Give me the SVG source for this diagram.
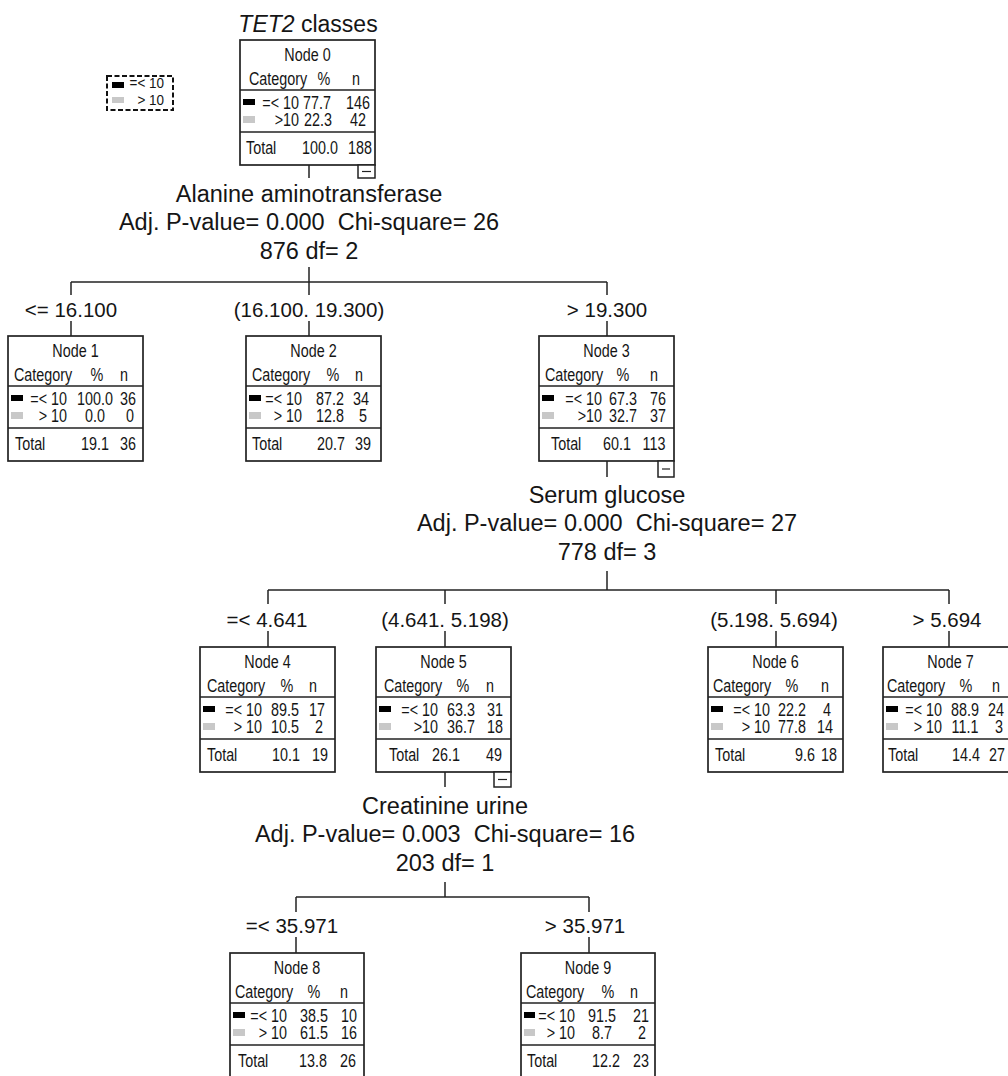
<svg xmlns="http://www.w3.org/2000/svg" width="1008" height="1076" viewBox="0 0 1008 1076">
<style>
text{font-family:"Liberation Sans",Arial,sans-serif;fill:#151515}
.nt{font-size:17.5px;transform-box:fill-box;transform:scaleX(0.82)}
.lg{font-size:15px;transform-box:fill-box;transform:scaleX(0.9)}
.s{text-anchor:start;transform-origin:left center}
.m{text-anchor:middle;transform-origin:center}
.e{text-anchor:end;transform-origin:right center}
.box{fill:#fff;stroke:#222;stroke-width:1.7}
.sep{stroke:#222;stroke-width:1.5}
.blk{fill:#000}
.gry{fill:#c8c8c8}
.lab{font-size:20.5px;text-anchor:middle}
.stat{font-size:23.5px;text-anchor:middle}
.ttl{font-size:23px;text-anchor:middle}
#connectors line{stroke:#222;stroke-width:1.5}
.mini{fill:#fff;stroke:#222;stroke-width:1.5}
</style>
<rect width="1008" height="1076" fill="#fff"/>

<g id="legend">
<rect x="107" y="76" width="66" height="34" fill="none" stroke="#111" stroke-width="2" stroke-dasharray="5 2.5"/>
<rect x="112" y="82" width="12" height="6" class="blk"/>
<rect x="112" y="97" width="12" height="6" class="gry"/>
<text x="164" y="88.5" class="lg e">=&lt; 10</text>
<text x="164" y="105.5" class="lg e">&gt; 10</text>
</g>

<g id="title">
<text x="308" y="32" class="ttl"><tspan font-style="italic">TET2</tspan> classes</text>
</g>

<g id="connectors">
<line x1="309" y1="165" x2="309" y2="178"/>
<line x1="309" y1="267" x2="309" y2="282"/>
<line x1="71" y1="282" x2="607" y2="282"/>
<line x1="71" y1="282" x2="71" y2="295"/>
<line x1="309" y1="282" x2="309" y2="295"/>
<line x1="607" y1="282" x2="607" y2="295"/>
<line x1="71" y1="321" x2="71" y2="336"/>
<line x1="309" y1="321" x2="309" y2="336"/>
<line x1="607" y1="321" x2="607" y2="336"/>

<line x1="607" y1="461" x2="607" y2="477"/>
<line x1="607" y1="571" x2="607" y2="590"/>
<line x1="268" y1="590" x2="949" y2="590"/>
<line x1="268" y1="590" x2="268" y2="604"/>
<line x1="445" y1="590" x2="445" y2="604"/>
<line x1="776" y1="590" x2="776" y2="604"/>
<line x1="949" y1="590" x2="949" y2="604"/>
<line x1="268" y1="631" x2="268" y2="647"/>
<line x1="445" y1="631" x2="445" y2="647"/>
<line x1="776" y1="631" x2="776" y2="647"/>
<line x1="949" y1="631" x2="949" y2="647"/>

<line x1="445" y1="772" x2="445" y2="787"/>
<line x1="445" y1="882" x2="445" y2="897"/>
<line x1="296" y1="897" x2="589" y2="897"/>
<line x1="296" y1="897" x2="296" y2="912"/>
<line x1="589" y1="897" x2="589" y2="912"/>
<line x1="296" y1="937" x2="296" y2="953"/>
<line x1="589" y1="937" x2="589" y2="953"/>
</g>

<g id="split-labels">
<text x="309" y="202" class="stat">Alanine aminotransferase</text>
<text x="309" y="230" class="stat" xml:space="preserve">Adj. P-value= 0.000  Chi-square= 26</text>
<text x="309" y="259" class="stat">876 df= 2</text>
<text x="71" y="317" class="lab">&lt;= 16.100</text>
<text x="309" y="317" class="lab">(16.100. 19.300)</text>
<text x="607" y="317" class="lab">&gt; 19.300</text>

<text x="607" y="503" class="stat">Serum glucose</text>
<text x="607" y="531" class="stat" xml:space="preserve">Adj. P-value= 0.000  Chi-square= 27</text>
<text x="607" y="560" class="stat">778 df= 3</text>
<text x="267" y="627" class="lab">=&lt; 4.641</text>
<text x="445" y="627" class="lab">(4.641. 5.198)</text>
<text x="774" y="627" class="lab">(5.198. 5.694)</text>
<text x="947" y="627" class="lab">&gt; 5.694</text>

<text x="445" y="814" class="stat">Creatinine urine</text>
<text x="445" y="842" class="stat" xml:space="preserve">Adj. P-value= 0.003  Chi-square= 16</text>
<text x="445" y="871" class="stat">203 df= 1</text>
<text x="292" y="933" class="lab">=&lt; 35.971</text>
<text x="585" y="933" class="lab">&gt; 35.971</text>
</g>

<g id="node0">
<rect x="240" y="40" width="135" height="125" class="box"/>
<line x1="240" y1="90" x2="375" y2="90" class="sep"/>
<line x1="240" y1="132" x2="375" y2="132" class="sep"/>
<text x="307.5" y="61" class="nt m">Node 0</text>
<text x="249" y="85" class="nt s">Category</text>
<text x="324" y="85" class="nt m">%</text>
<text x="356" y="85" class="nt m">n</text>
<rect x="243" y="99" width="12" height="6" class="blk"/>
<text x="299" y="109" class="nt e">=&lt; 10</text>
<text x="317" y="109" class="nt m">77.7</text>
<text x="358" y="109" class="nt m">146</text>
<rect x="243" y="116" width="12" height="7" class="gry"/>
<text x="299" y="126" class="nt e">&gt;10</text>
<text x="318" y="126" class="nt m">22.3</text>
<text x="358" y="126" class="nt m">42</text>
<text x="246" y="154" class="nt s">Total</text>
<text x="320" y="154" class="nt m">100.0</text>
<text x="360" y="154" class="nt m">188</text>
<rect x="358" y="165" width="17" height="13" class="mini"/>
<line x1="362" y1="171.5" x2="371" y2="171.5" stroke="#222" stroke-width="1.2"/>
</g>

<g id="node1">
<rect x="8" y="336" width="135" height="125" class="box"/>
<line x1="8" y1="386" x2="143" y2="386" class="sep"/>
<line x1="8" y1="428" x2="143" y2="428" class="sep"/>
<text x="75.5" y="357" class="nt m">Node 1</text>
<text x="14" y="381" class="nt s">Category</text>
<text x="97" y="381" class="nt m">%</text>
<text x="124" y="381" class="nt m">n</text>
<rect x="11" y="395" width="12" height="6" class="blk"/>
<text x="67" y="405" class="nt e">=&lt; 10</text>
<text x="95" y="405" class="nt m">100.0</text>
<text x="128" y="405" class="nt m">36</text>
<rect x="11" y="412" width="12" height="7" class="gry"/>
<text x="67" y="422" class="nt e">&gt; 10</text>
<text x="95" y="422" class="nt m">0.0</text>
<text x="130" y="422" class="nt m">0</text>
<text x="15" y="450" class="nt s">Total</text>
<text x="95" y="450" class="nt m">19.1</text>
<text x="128" y="450" class="nt m">36</text>
</g>

<g id="node2">
<rect x="246" y="336" width="135" height="125" class="box"/>
<line x1="246" y1="386" x2="381" y2="386" class="sep"/>
<line x1="246" y1="428" x2="381" y2="428" class="sep"/>
<text x="313.5" y="357" class="nt m">Node 2</text>
<text x="252" y="381" class="nt s">Category</text>
<text x="333" y="381" class="nt m">%</text>
<text x="359" y="381" class="nt m">n</text>
<rect x="249" y="395" width="12" height="6" class="blk"/>
<text x="302" y="405" class="nt e">=&lt; 10</text>
<text x="330" y="405" class="nt m">87.2</text>
<text x="361" y="405" class="nt m">34</text>
<rect x="249" y="412" width="12" height="7" class="gry"/>
<text x="302" y="422" class="nt e">&gt; 10</text>
<text x="330" y="422" class="nt m">12.8</text>
<text x="363" y="422" class="nt m">5</text>
<text x="252" y="450" class="nt s">Total</text>
<text x="331" y="450" class="nt m">20.7</text>
<text x="363" y="450" class="nt m">39</text>
</g>

<g id="node3">
<rect x="539" y="336" width="135" height="125" class="box"/>
<line x1="539" y1="386" x2="674" y2="386" class="sep"/>
<line x1="539" y1="428" x2="674" y2="428" class="sep"/>
<text x="606.5" y="357" class="nt m">Node 3</text>
<text x="545" y="381" class="nt s">Category</text>
<text x="623" y="381" class="nt m">%</text>
<text x="654" y="381" class="nt m">n</text>
<rect x="542" y="395" width="12" height="6" class="blk"/>
<text x="602" y="405" class="nt e">=&lt; 10</text>
<text x="623" y="405" class="nt m">67.3</text>
<text x="658" y="405" class="nt m">76</text>
<rect x="542" y="412" width="12" height="7" class="gry"/>
<text x="602" y="422" class="nt e">&gt;10</text>
<text x="623" y="422" class="nt m">32.7</text>
<text x="658" y="422" class="nt m">37</text>
<text x="551" y="450" class="nt s">Total</text>
<text x="617" y="450" class="nt m">60.1</text>
<text x="654" y="450" class="nt m">113</text>
<rect x="658" y="461" width="16" height="16" class="mini"/>
<line x1="662" y1="469" x2="670" y2="469" stroke="#222" stroke-width="1.2"/>
</g>

<g id="node4">
<rect x="200" y="647" width="135" height="125" class="box"/>
<line x1="200" y1="697" x2="335" y2="697" class="sep"/>
<line x1="200" y1="739" x2="335" y2="739" class="sep"/>
<text x="267.5" y="668" class="nt m">Node 4</text>
<text x="207" y="692" class="nt s">Category</text>
<text x="287" y="692" class="nt m">%</text>
<text x="313" y="692" class="nt m">n</text>
<rect x="203" y="706" width="12" height="6" class="blk"/>
<text x="262" y="716" class="nt e">=&lt; 10</text>
<text x="285" y="716" class="nt m">89.5</text>
<text x="317" y="716" class="nt m">17</text>
<rect x="203" y="723" width="12" height="7" class="gry"/>
<text x="262" y="733" class="nt e">&gt; 10</text>
<text x="285" y="733" class="nt m">10.5</text>
<text x="319" y="733" class="nt m">2</text>
<text x="207" y="761" class="nt s">Total</text>
<text x="286" y="761" class="nt m">10.1</text>
<text x="320" y="761" class="nt m">19</text>
</g>

<g id="node5">
<rect x="376" y="647" width="135" height="125" class="box"/>
<line x1="376" y1="697" x2="511" y2="697" class="sep"/>
<line x1="376" y1="739" x2="511" y2="739" class="sep"/>
<text x="443.5" y="668" class="nt m">Node 5</text>
<text x="384" y="692" class="nt s">Category</text>
<text x="463" y="692" class="nt m">%</text>
<text x="490" y="692" class="nt m">n</text>
<rect x="379" y="706" width="12" height="6" class="blk"/>
<text x="438" y="716" class="nt e">=&lt; 10</text>
<text x="461" y="716" class="nt m">63.3</text>
<text x="495" y="716" class="nt m">31</text>
<rect x="379" y="723" width="12" height="7" class="gry"/>
<text x="438" y="733" class="nt e">&gt;10</text>
<text x="461" y="733" class="nt m">36.7</text>
<text x="495" y="733" class="nt m">18</text>
<text x="389" y="761" class="nt s">Total</text>
<text x="446" y="761" class="nt m">26.1</text>
<text x="494" y="761" class="nt m">49</text>
<rect x="494" y="772" width="17" height="15" class="mini"/>
<line x1="498" y1="779.5" x2="507" y2="779.5" stroke="#222" stroke-width="1.2"/>
</g>

<g id="node6">
<rect x="708" y="647" width="135" height="125" class="box"/>
<line x1="708" y1="697" x2="843" y2="697" class="sep"/>
<line x1="708" y1="739" x2="843" y2="739" class="sep"/>
<text x="775.5" y="668" class="nt m">Node 6</text>
<text x="713" y="692" class="nt s">Category</text>
<text x="792" y="692" class="nt m">%</text>
<text x="825" y="692" class="nt m">n</text>
<rect x="711" y="706" width="12" height="6" class="blk"/>
<text x="770" y="716" class="nt e">=&lt; 10</text>
<text x="792" y="716" class="nt m">22.2</text>
<text x="827" y="716" class="nt m">4</text>
<rect x="711" y="723" width="12" height="7" class="gry"/>
<text x="770" y="733" class="nt e">&gt; 10</text>
<text x="792" y="733" class="nt m">77.8</text>
<text x="825" y="733" class="nt m">14</text>
<text x="715" y="761" class="nt s">Total</text>
<text x="805" y="761" class="nt m">9.6</text>
<text x="829" y="761" class="nt m">18</text>
</g>

<g id="node7">
<rect x="883" y="647" width="135" height="125" class="box"/>
<line x1="883" y1="697" x2="1018" y2="697" class="sep"/>
<line x1="883" y1="739" x2="1018" y2="739" class="sep"/>
<text x="950.5" y="668" class="nt m">Node 7</text>
<text x="887" y="692" class="nt s">Category</text>
<text x="966" y="692" class="nt m">%</text>
<text x="996" y="692" class="nt m">n</text>
<rect x="886" y="706" width="12" height="6" class="blk"/>
<text x="942" y="716" class="nt e">=&lt; 10</text>
<text x="965" y="716" class="nt m">88.9</text>
<text x="996" y="716" class="nt m">24</text>
<rect x="886" y="723" width="12" height="7" class="gry"/>
<text x="942" y="733" class="nt e">&gt; 10</text>
<text x="965" y="733" class="nt m">11.1</text>
<text x="999" y="733" class="nt m">3</text>
<text x="888" y="761" class="nt s">Total</text>
<text x="966" y="761" class="nt m">14.4</text>
<text x="997" y="761" class="nt m">27</text>
</g>

<g id="node8">
<rect x="230" y="953" width="134" height="125" class="box"/>
<line x1="230" y1="1003" x2="364" y2="1003" class="sep"/>
<line x1="230" y1="1045" x2="364" y2="1045" class="sep"/>
<text x="297" y="974" class="nt m">Node 8</text>
<text x="235" y="998" class="nt s">Category</text>
<text x="314" y="998" class="nt m">%</text>
<text x="344" y="998" class="nt m">n</text>
<rect x="233" y="1012" width="12" height="6" class="blk"/>
<text x="287" y="1022" class="nt e">=&lt; 10</text>
<text x="314" y="1022" class="nt m">38.5</text>
<text x="349" y="1022" class="nt m">10</text>
<rect x="233" y="1029" width="12" height="7" class="gry"/>
<text x="287" y="1039" class="nt e">&gt; 10</text>
<text x="314" y="1039" class="nt m">61.5</text>
<text x="349" y="1039" class="nt m">16</text>
<text x="238" y="1067" class="nt s">Total</text>
<text x="313" y="1067" class="nt m">13.8</text>
<text x="348" y="1067" class="nt m">26</text>
</g>

<g id="node9">
<rect x="521" y="953" width="134" height="125" class="box"/>
<line x1="521" y1="1003" x2="655" y2="1003" class="sep"/>
<line x1="521" y1="1045" x2="655" y2="1045" class="sep"/>
<text x="588" y="974" class="nt m">Node 9</text>
<text x="526" y="998" class="nt s">Category</text>
<text x="608" y="998" class="nt m">%</text>
<text x="634" y="998" class="nt m">n</text>
<rect x="524" y="1012" width="11" height="6" class="blk"/>
<text x="575" y="1022" class="nt e">=&lt; 10</text>
<text x="602" y="1022" class="nt m">91.5</text>
<text x="641" y="1022" class="nt m">21</text>
<rect x="524" y="1029" width="11" height="7" class="gry"/>
<text x="575" y="1039" class="nt e">&gt; 10</text>
<text x="602" y="1039" class="nt m">8.7</text>
<text x="642" y="1039" class="nt m">2</text>
<text x="527" y="1067" class="nt s">Total</text>
<text x="606" y="1067" class="nt m">12.2</text>
<text x="641" y="1067" class="nt m">23</text>
</g>
</svg>
